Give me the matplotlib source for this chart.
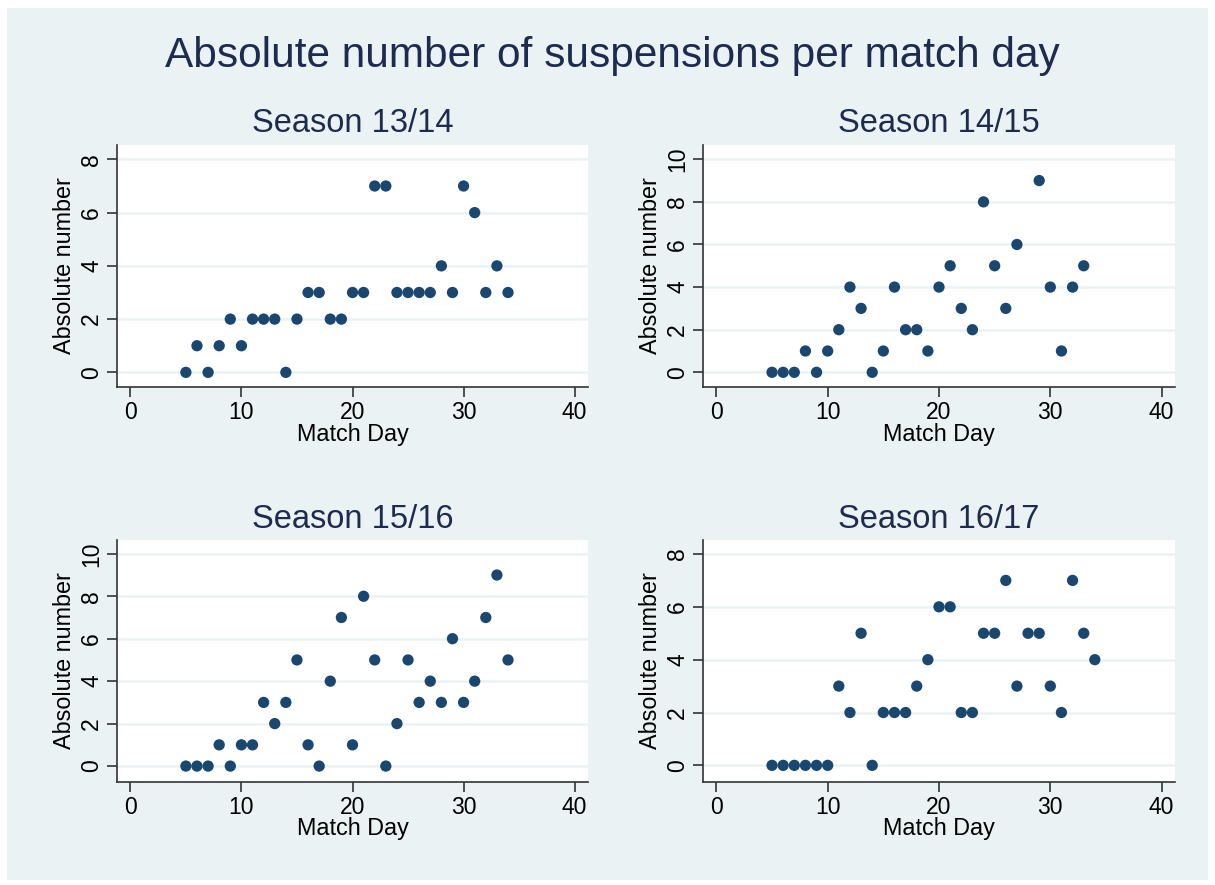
import matplotlib
matplotlib.use("Agg")
import matplotlib.pyplot as plt
from matplotlib.patches import Rectangle

plt.rcParams["font.family"] = ["Liberation Sans", "DejaVu Sans"]

BG = "#EAF2F3"
NAVY = "#1A476F"
TITLE_COL = "#1E2B50"

W, H = 1215, 885

# match days and suspensions per season
days_1314 = list(range(5, 35))
susp_1314 = [0, 1, 0, 1, 2, 1, 2, 2, 2, 0, 2, 3, 3, 2, 2, 3, 3, 7, 7, 3,
             3, 3, 3, 4, 3, 7, 6, 3, 4, 3]

days_1415 = list(range(5, 28)) + [29, 30, 31, 32, 33]
susp_1415 = [0, 0, 0, 1, 0, 1, 2, 4, 3, 0, 1, 4, 2, 2, 1, 4, 5, 3, 2, 8,
             5, 3, 6, 9, 4, 1, 4, 5]

days_1516 = list(range(5, 35))
susp_1516 = [0, 0, 0, 1, 0, 1, 1, 3, 2, 3, 5, 1, 0, 4, 7, 1, 8, 5, 0, 2,
             5, 3, 4, 3, 6, 3, 4, 7, 9, 5]

days_1617 = list(range(5, 35))
susp_1617 = [0, 0, 0, 0, 0, 0, 3, 2, 5, 0, 2, 2, 2, 3, 4, 6, 6, 2, 2, 5,
             5, 7, 3, 5, 5, 3, 2, 7, 5, 4]

panels = [
    ("Season 13/14", days_1314, susp_1314, [0, 2, 4, 6, 8], (-0.55, 8.54)),
    ("Season 14/15", days_1415, susp_1415, [0, 2, 4, 6, 8, 10], (-0.69, 10.67)),
    ("Season 15/16", days_1516, susp_1516, [0, 2, 4, 6, 8, 10], (-0.75, 10.65)),
    ("Season 16/17", days_1617, susp_1617, [0, 2, 4, 6, 8], (-0.63, 8.53)),
]

# axes boxes in pixels: left, top, right, bottom
boxes = [
    (117, 145, 588, 387),
    (703, 145, 1175, 387),
    (117, 540, 588, 782),
    (703, 540, 1175, 782),
]

fig = plt.figure(figsize=(W / 100, H / 100), dpi=100)
fig.patch.set_facecolor("white")
fig.patches.append(Rectangle((7 / W, 1 - 880 / H), 1201 / W, 872 / H,
                             transform=fig.transFigure, facecolor=BG,
                             edgecolor="none", zorder=-10))

fig.text(612 / W, 1 - 56 / H, "Absolute number of suspensions per match day",
         ha="center", va="center", fontsize=30.5, color=TITLE_COL)

for (title, x, y, yticks, ylim), (l, t, r, b) in zip(panels, boxes):
    ax = fig.add_axes([l / W, 1 - b / H, (r - l) / W, (b - t) / H])
    ax.set_facecolor("white")
    ax.set_axisbelow(True)
    ax.grid(axis="y", color=BG, linewidth=1.8)
    ax.scatter(x, y, s=66, color=NAVY, edgecolors="none", zorder=3)
    ax.set_xlim(-1.2, 41.2)
    ax.set_ylim(*ylim)
    ax.set_xticks([0, 10, 20, 30, 40])
    ax.set_yticks(yticks)
    for side in ["top", "right"]:
        ax.spines[side].set_visible(False)
    for side in ["left", "bottom"]:
        ax.spines[side].set_color("#333333")
        ax.spines[side].set_linewidth(1.2)
    ax.tick_params(axis="both", length=7, width=1.2, color="#333333",
                   labelsize=16.5, pad=3)
    for lab in ax.get_yticklabels():
        lab.set_rotation(90)
        lab.set_va("center")
    ax.set_xlabel("Match Day", fontsize=16.8, labelpad=-1)
    ax.set_ylabel("Absolute number", fontsize=16.8, labelpad=3)
    ax.set_title(title, fontsize=23.5, color=TITLE_COL, pad=9)

fig.savefig("out.png", dpi=100, facecolor=fig.get_facecolor())
